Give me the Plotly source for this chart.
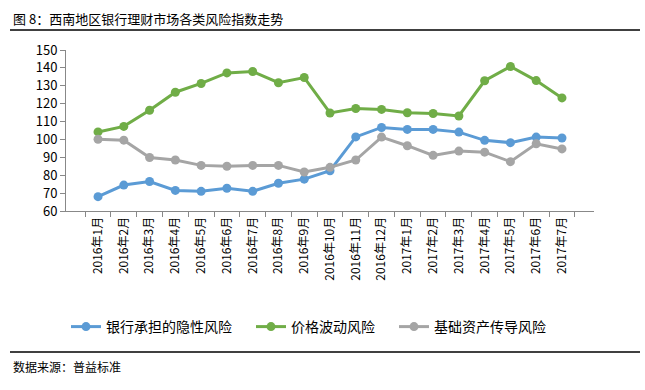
import plotly.graph_objects as go

months = ["2016年1月", "2016年2月", "2016年3月", "2016年4月", "2016年5月", "2016年6月",
          "2016年7月", "2016年8月", "2016年9月", "2016年10月", "2016年11月", "2016年12月",
          "2017年1月", "2017年2月", "2017年3月", "2017年4月", "2017年5月", "2017年6月", "2017年7月"]
bank_risk = [68, 74.5, 76.5, 71.5, 71, 72.7, 71, 75.5, 77.8, 82.5, 101.4, 106.7, 105.6, 105.6, 104.1, 99.5, 98.2, 101.3, 100.8]
price_risk = [104.2, 107.3, 116.3, 126.4, 131.3, 137.2, 138, 131.7, 134.6, 114.8, 117.3, 116.8, 114.9, 114.5, 113.1, 132.8, 140.8, 132.9, 123.2]
asset_risk = [100.1, 99.6, 89.9, 88.5, 85.5, 85, 85.5, 85.5, 81.8, 84.4, 88.5, 101.3, 96.5, 91.1, 93.5, 92.9, 87.6, 97.6, 94.7]
series_names = ["银行承担的隐性风险", "价格波动风险", "基础资产传导风险"]
colors = ["#5B9BD5", "#70AD47", "#A5A5A5"]
title_text = "图 8：西南地区银行理财市场各类风险指数走势"
source_text = "数据来源：普益标准"

font_family = "Noto Sans CJK SC, Noto Sans, sans-serif"

fig = go.Figure()
for name, vals, c in zip(series_names, [bank_risk, price_risk, asset_risk], colors):
    fig.add_trace(go.Scatter(
        x=months, y=vals, name=name + "\u2003", mode="lines+markers",
        line=dict(color=c, width=3),
        marker=dict(color=c, size=9),
    ))

W, H = 645, 390
L, R, T, B = 66, 51, 50, 179
pw, ph = W - L - R, H - T - B

def px_x(x):
    return (x - L) / pw

def px_y(y):
    return (H - B - y) / ph

fig.update_layout(
    width=W, height=H,
    margin=dict(l=L, r=R, t=T, b=B, autoexpand=False),
    paper_bgcolor="white", plot_bgcolor="white",
    font=dict(family=font_family, color="#000000", size=12),
    showlegend=True,
    legend=dict(orientation="h", x=px_x(66), xanchor="left", y=px_y(327), yanchor="middle",
                font=dict(size=14, family=font_family), itemwidth=30,
                bgcolor="rgba(0,0,0,0)"),
    xaxis=dict(type="category", showgrid=False, showline=True, linecolor="#888888", linewidth=1,
               ticks="outside", tickson="boundaries", ticklen=5, tickcolor="#888888",
               tickangle=-90, tickfont=dict(size=12, family=font_family)),
    yaxis=dict(range=[60, 150], dtick=10, showgrid=False, showline=True, linecolor="#888888",
               linewidth=1, ticks="outside", ticklen=5, tickcolor="#888888",
               tickfont=dict(size=13, family=font_family), zeroline=False),
    annotations=[
        dict(text=title_text, xref="paper", yref="paper", x=px_x(11), y=px_y(19),
             xanchor="left", yanchor="middle", showarrow=False,
             font=dict(size=13, family=font_family, color="#000000")),
        dict(text=source_text, xref="paper", yref="paper", x=px_x(11), y=px_y(366),
             xanchor="left", yanchor="middle", showarrow=False,
             font=dict(size=12, family=font_family, color="#000000")),
    ],
    shapes=[
        dict(type="line", xref="paper", yref="paper", x0=px_x(10), x1=px_x(640),
             y0=px_y(30), y1=px_y(30), line=dict(color="#000000", width=1.5)),
        dict(type="line", xref="paper", yref="paper", x0=px_x(10), x1=px_x(640),
             y0=px_y(352), y1=px_y(352), line=dict(color="#000000", width=1.5)),
    ],
)

fig.write_html("out.html", config={"displayModeBar": False},
               post_script="document.body.style.margin='0';document.body.style.padding='0';")
